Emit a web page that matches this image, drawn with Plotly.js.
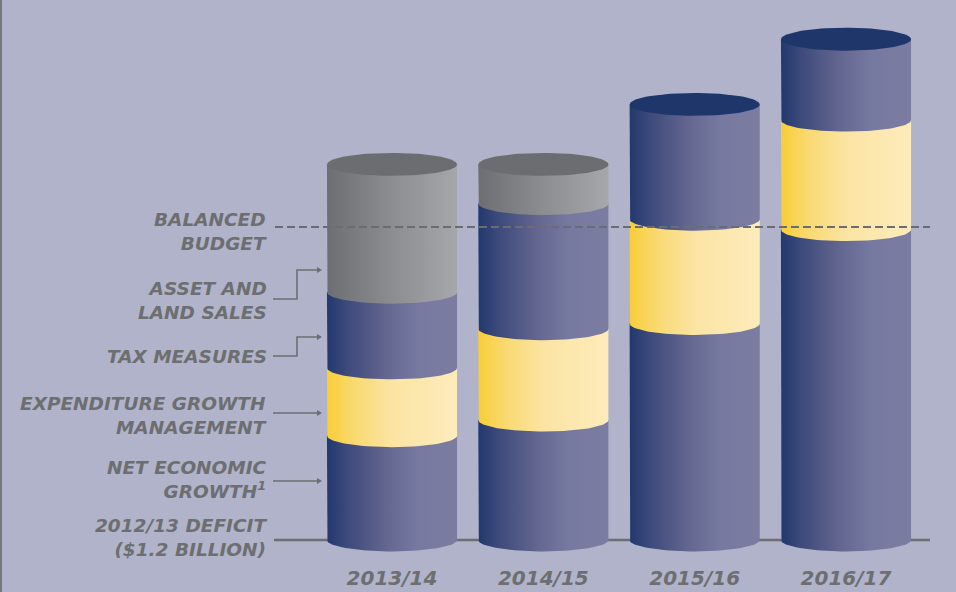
<!DOCTYPE html>
<html><head><meta charset="utf-8">
<script src="https://cdn.plot.ly/plotly-3.0.1.min.js"></script>
<style>html,body{margin:0;padding:0;background:#B1B3CA;} #chart{width:956px;height:592px;}</style>
</head><body><div id="chart"></div>
<script>
// ---- data ($ billions of improvement from the 2012/13 deficit) ----
const categories = ['2013/14', '2014/15', '2015/16', '2016/17'];
const netGrowth   = [0.40, 0.46, 0.83, 1.19];
const expMgmt     = [0.26, 0.35, 0.40, 0.42];
const taxMeasures = [0.29, 0.48, 0.44, 0.31];
const assetSales  = [0.49, 0.15, 0.00, 0.00];
const deficit = 1.2;

// ---- geometry / styling ----
const W = 956, H = 592, ML = 272, MR = 26, MT = 10, MB = 32;
const xMin = -0.793, xMax = 3.555, yMin = -0.0767, yMax = 2.032;
const pw = W - ML - MR, ph = H - MT - MB;
const pxX = px => xMin + (px - ML) / pw * (xMax - xMin);
const pxY = py => yMin + (H - MB - py) / ph * (yMax - yMin);

const HW = 0.43;     // half width of a cylinder (x units)
const ELL = 0.044;   // ellipse semi-minor axis (y units)
const NP = 48;

const blueScale   = [[0, '#22386D'], [0.15, '#3C497B'], [0.45, '#63668F'], [0.7, '#7679A0'], [1, '#7C7CA1']];
const yellowScale = [[0, '#F8CD37'], [0.2, '#F9D96E'], [0.5, '#FBE4A3'], [1, '#FDEBBB']];
const grayScale   = [[0, '#6D6E71'], [0.5, '#8C8D90'], [1, '#A5A7AA']];
const segSeries = [
  {vals: netGrowth,   scale: blueScale,   cap: '#1F366B', name: 'Net economic growth'},
  {vals: expMgmt,     scale: yellowScale, cap: '#F3D36A', name: 'Expenditure growth management'},
  {vals: taxMeasures, scale: blueScale,   cap: '#1F366B', name: 'Tax measures'},
  {vals: assetSales,  scale: grayScale,   cap: '#6C6D70', name: 'Asset and land sales'}
];

function segmentPoly(c, ylo, yhi) {
  const xs = [], ys = [];
  xs.push(c - HW); ys.push(yhi);
  xs.push(c - HW); ys.push(ylo);
  for (let k = 0; k <= NP; k++) {
    const t = Math.PI + Math.PI * k / NP;
    xs.push(c + HW * Math.cos(t)); ys.push(ylo + ELL * Math.sin(t));
  }
  xs.push(c + HW); ys.push(yhi);
  xs.push(c - HW); ys.push(yhi);
  return {xs, ys};
}
function ellipsePoly(c, y) {
  const xs = [], ys = [];
  for (let k = 0; k <= 2 * NP; k++) {
    const t = 2 * Math.PI * k / (2 * NP);
    xs.push(c + HW * Math.cos(t)); ys.push(y + ELL * Math.sin(t));
  }
  return {xs, ys};
}

const traces = [];
categories.forEach((cat, i) => {
  let base = 0, topCap = null;
  segSeries.forEach(s => {
    const v = s.vals[i];
    if (v <= 0) return;
    const p = segmentPoly(i, base, base + v);
    traces.push({
      type: 'scatter', mode: 'lines', x: p.xs, y: p.ys, fill: 'toself',
      fillcolor: s.scale[2][1], fillgradient: {type: 'horizontal', colorscale: s.scale},
      line: {width: 0}, hoverinfo: 'skip', showlegend: false, name: s.name
    });
    base += v; topCap = s.cap;
  });
  const e = ellipsePoly(i, base);
  traces.push({
    type: 'scatter', mode: 'lines', x: e.xs, y: e.ys, fill: 'toself',
    fillcolor: topCap, line: {width: 0}, hoverinfo: 'skip', showlegend: false
  });
});

const txtCol = '#6D6E70';
const FAM = 'DejaVu Sans';
const lblFont = {family: FAM, size: 18.5, color: txtCol, weight: 'bold', style: 'italic'};
function label(text, pyCenter) {
  return {xref: 'paper', yref: 'y', x: 0, xshift: -3, xanchor: 'right', yanchor: 'middle',
          y: pxY(pyCenter), text: text, showarrow: false, align: 'right', font: lblFont};
}
const annotations = [
  label('BALANCED<br>BUDGET', 231),
  label('ASSET AND<br>LAND SALES', 300),
  label('TAX MEASURES', 356),
  label('EXPENDITURE GROWTH<br>MANAGEMENT', 415),
  label('NET ECONOMIC<br>GROWTH<sup>1</sup>', 479),
  label('2012/13 DEFICIT<br>($1.2 BILLION)', 537)
];

const lc = '#6D6E70';
function arrowHead(pxTip, py) {
  return {type: 'path', xref: 'x', yref: 'y', layer: 'above',
    path: `M${pxX(pxTip)},${pxY(py)} L${pxX(pxTip - 5)},${pxY(py - 3)} L${pxX(pxTip - 5)},${pxY(py + 3)} Z`,
    fillcolor: lc, line: {width: 0}};
}
function pathShape(pts) {
  return {type: 'path', xref: 'x', yref: 'y', layer: 'above',
    path: pts.map((p, k) => (k ? 'L' : 'M') + pxX(p[0]) + ',' + pxY(p[1])).join(' '),
    line: {color: lc, width: 1.6}};
}
const shapes = [
  {type: 'line', xref: 'x', yref: 'y', layer: 'below', x0: pxX(274), x1: pxX(931), y0: 0, y1: 0,
   line: {color: lc, width: 2.5}},
  {type: 'line', xref: 'x', yref: 'y', layer: 'above', x0: pxX(275), x1: pxX(931), y0: deficit, y1: deficit,
   line: {color: '#6B6C72', width: 2, dash: '8px,4px'}},
  {type: 'line', xref: 'paper', yref: 'paper', x0: -271 / pw, x1: -271 / pw, y0: -1, y1: 2,
   line: {color: '#77787D', width: 2}},
  pathShape([[273, 299], [297, 299], [297, 270], [318, 270]]), arrowHead(322, 270),
  pathShape([[273, 356], [297, 356], [297, 337], [318, 337]]), arrowHead(322, 337),
  pathShape([[273, 413], [318, 413]]), arrowHead(322, 413),
  pathShape([[273, 481], [318, 481]]), arrowHead(322, 481)
];

const layout = {
  width: W, height: H,
  margin: {l: ML, r: MR, t: MT, b: MB},
  paper_bgcolor: '#B1B3CA', plot_bgcolor: '#B1B3CA',
  showlegend: false,
  xaxis: {range: [xMin, xMax], showgrid: false, zeroline: false, showline: false,
          tickvals: categories.map((c, i) => i), ticktext: categories, ticks: '',
          ticklabelstandoff: 4,
          tickfont: {family: FAM, size: 20, color: txtCol, weight: 'bold', style: 'italic'},
          fixedrange: true},
  yaxis: {range: [yMin, yMax], showgrid: false, zeroline: false, showline: false,
          showticklabels: false, ticks: '', fixedrange: true},
  annotations: annotations,
  shapes: shapes
};

Plotly.newPlot('chart', traces, layout, {displayModeBar: false, staticPlot: true});
</script>
</body></html>
